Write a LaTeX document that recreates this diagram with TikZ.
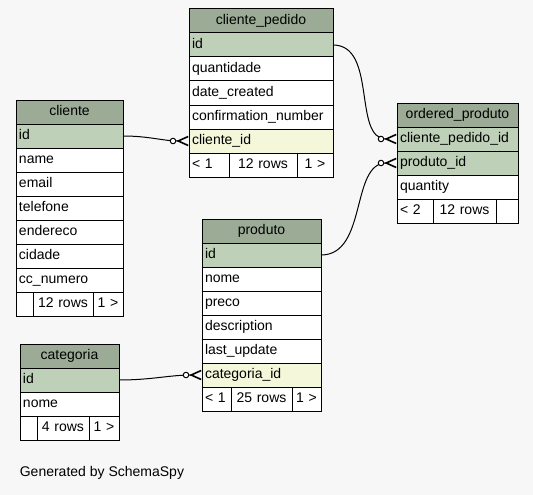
\documentclass[tikz,border=0pt]{standalone}
\usepackage{fontspec}
\setmainfont{Liberation Sans}
\usetikzlibrary{positioning,arrows.meta}
\definecolor{bgcol}{HTML}{F7F7F7}
\definecolor{headcol}{HTML}{9BAB96}
\definecolor{keycol}{HTML}{BED1B8}
\definecolor{idxcol}{HTML}{F4F7DA}

\begin{document}
\begin{tikzpicture}[x=1pt,y=-1pt,line width=1pt,
    tcell/.style={draw,outer sep=0pt,inner xsep=3pt,inner ysep=0pt,minimum height=24pt,
                  text height=10.5pt,text depth=3.5pt,font=\fontsize{14}{17}\selectfont},
    thead/.style={tcell,fill=headcol,align=center},
    pkey/.style={tcell,fill=keycol,align=left},
    idx/.style={tcell,fill=idxcol,align=left},
    col/.style={tcell,fill=white,align=left},
    foot/.style={tcell,fill=white,align=center},
    footl/.style={tcell,fill=white,align=left},
    crow/.style={-{Circle[fill=white,length=6.5pt] Straight Barb[reversed,length=10pt,width=9pt,line width=1.6pt]}}]

          \fill[bgcol] (0,0) rectangle (533,495);
          \useasboundingbox (0,0) rectangle (533,495);

          % cliente_pedido
          \begin{scope}[every node/.append style={text width=138pt}]
          \node[thead,anchor=north west] (cp0) at (189,9) {cliente\_pedido};
          \node[pkey] (cp1) [below=0pt of cp0] {id};
          \node[col] (cp2) [below=0pt of cp1] {quantidade};
          \node[col] (cp3) [below=0pt of cp2] {date\_created};
          \node[col] (cp4) [below=0pt of cp3] {confirmation\_number};
          \node[idx] (cp5) [below=0pt of cp4] {cliente\_id};
          \node[footl,text width=34pt,anchor=north west] (cp6) at (cp5.south west) {< 1};
          \node[foot,text width=62pt] (cp7) [right=0pt of cp6] {12 rows};
          \node[foot,text width=30pt] (cp8) [right=0pt of cp7] {1 >};
          \end{scope}

          % cliente
          \begin{scope}[every node/.append style={text width=101pt}]
          \node[thead,anchor=north west] (cl0) at (16,100) {cliente};
          \node[pkey] (cl1) [below=0pt of cl0] {id};
          \node[col] (cl2) [below=0pt of cl1] {name};
          \node[col] (cl3) [below=0pt of cl2] {email};
          \node[col] (cl4) [below=0pt of cl3] {telefone};
          \node[col] (cl5) [below=0pt of cl4] {endereco};
          \node[col] (cl6) [below=0pt of cl5] {cidade};
          \node[col] (cl7) [below=0pt of cl6] {cc\_numero};
          \node[footl,text width=11pt,anchor=north west] (cl8) at (cl7.south west) {};
          \node[foot,text width=54pt] (cl9) [right=0pt of cl8] {12 rows};
          \node[foot,text width=24pt] (cl10) [right=0pt of cl9] {1 >};
          \end{scope}

          % ordered_produto
          \begin{scope}[every node/.append style={text width=115pt}]
          \node[thead,anchor=north west] (op0) at (397,103) {ordered\_produto};
          \node[pkey] (op1) [below=0pt of op0] {cliente\_pedido\_id};
          \node[pkey] (op2) [below=0pt of op1] {produto\_id};
          \node[col] (op3) [below=0pt of op2] {quantity};
          \node[footl,text width=30pt,anchor=north west] (op4) at (op3.south west) {< 2};
          \node[foot,text width=57pt] (op5) [right=0pt of op4] {12 rows};
          \node[foot,text width=16pt] (op6) [right=0pt of op5] {};
          \end{scope}

          % produto
          \begin{scope}[every node/.append style={text width=113pt}]
          \node[thead,anchor=north west] (pr0) at (202,219) {produto};
          \node[pkey] (pr1) [below=0pt of pr0] {id};
          \node[col] (pr2) [below=0pt of pr1] {nome};
          \node[col] (pr3) [below=0pt of pr2] {preco};
          \node[col] (pr4) [below=0pt of pr3] {description};
          \node[col] (pr5) [below=0pt of pr4] {last\_update};
          \node[idx] (pr6) [below=0pt of pr5] {categoria\_id};
          \node[footl,text width=23pt,anchor=north west] (pr7) at (pr6.south west) {< 1};
          \node[foot,text width=55pt] (pr8) [right=0pt of pr7] {25 rows};
          \node[foot,text width=23pt] (pr9) [right=0pt of pr8] {1 >};
          \end{scope}

          % categoria
          \begin{scope}[every node/.append style={text width=93pt}]
          \node[thead,anchor=north west] (ca0) at (20,344) {categoria};
          \node[pkey] (ca1) [below=0pt of ca0] {id};
          \node[col] (ca2) [below=0pt of ca1] {nome};
          \node[footl,text width=11pt,anchor=north west] (ca3) at (ca2.south west) {};
          \node[foot,text width=46pt] (ca4) [right=0pt of ca3] {4 rows};
          \node[foot,text width=24pt] (ca5) [right=0pt of ca4] {1 >};
          \end{scope}

          \node[anchor=west,font=\fontsize{14}{17}\selectfont] (gen) at (16,473) {Generated by SchemaSpy};

          \path
          (cl1.east) edge [crow,out=0,in=180] (cp5.west)
          (cp1.east) edge [crow,out=0,in=180] (op1.west)
          (pr1.east) edge [crow,out=0,in=180] (op2.west)
          (ca1.east) edge [crow,out=0,in=180] (pr6.west);

        \end{tikzpicture}
\end{document}
